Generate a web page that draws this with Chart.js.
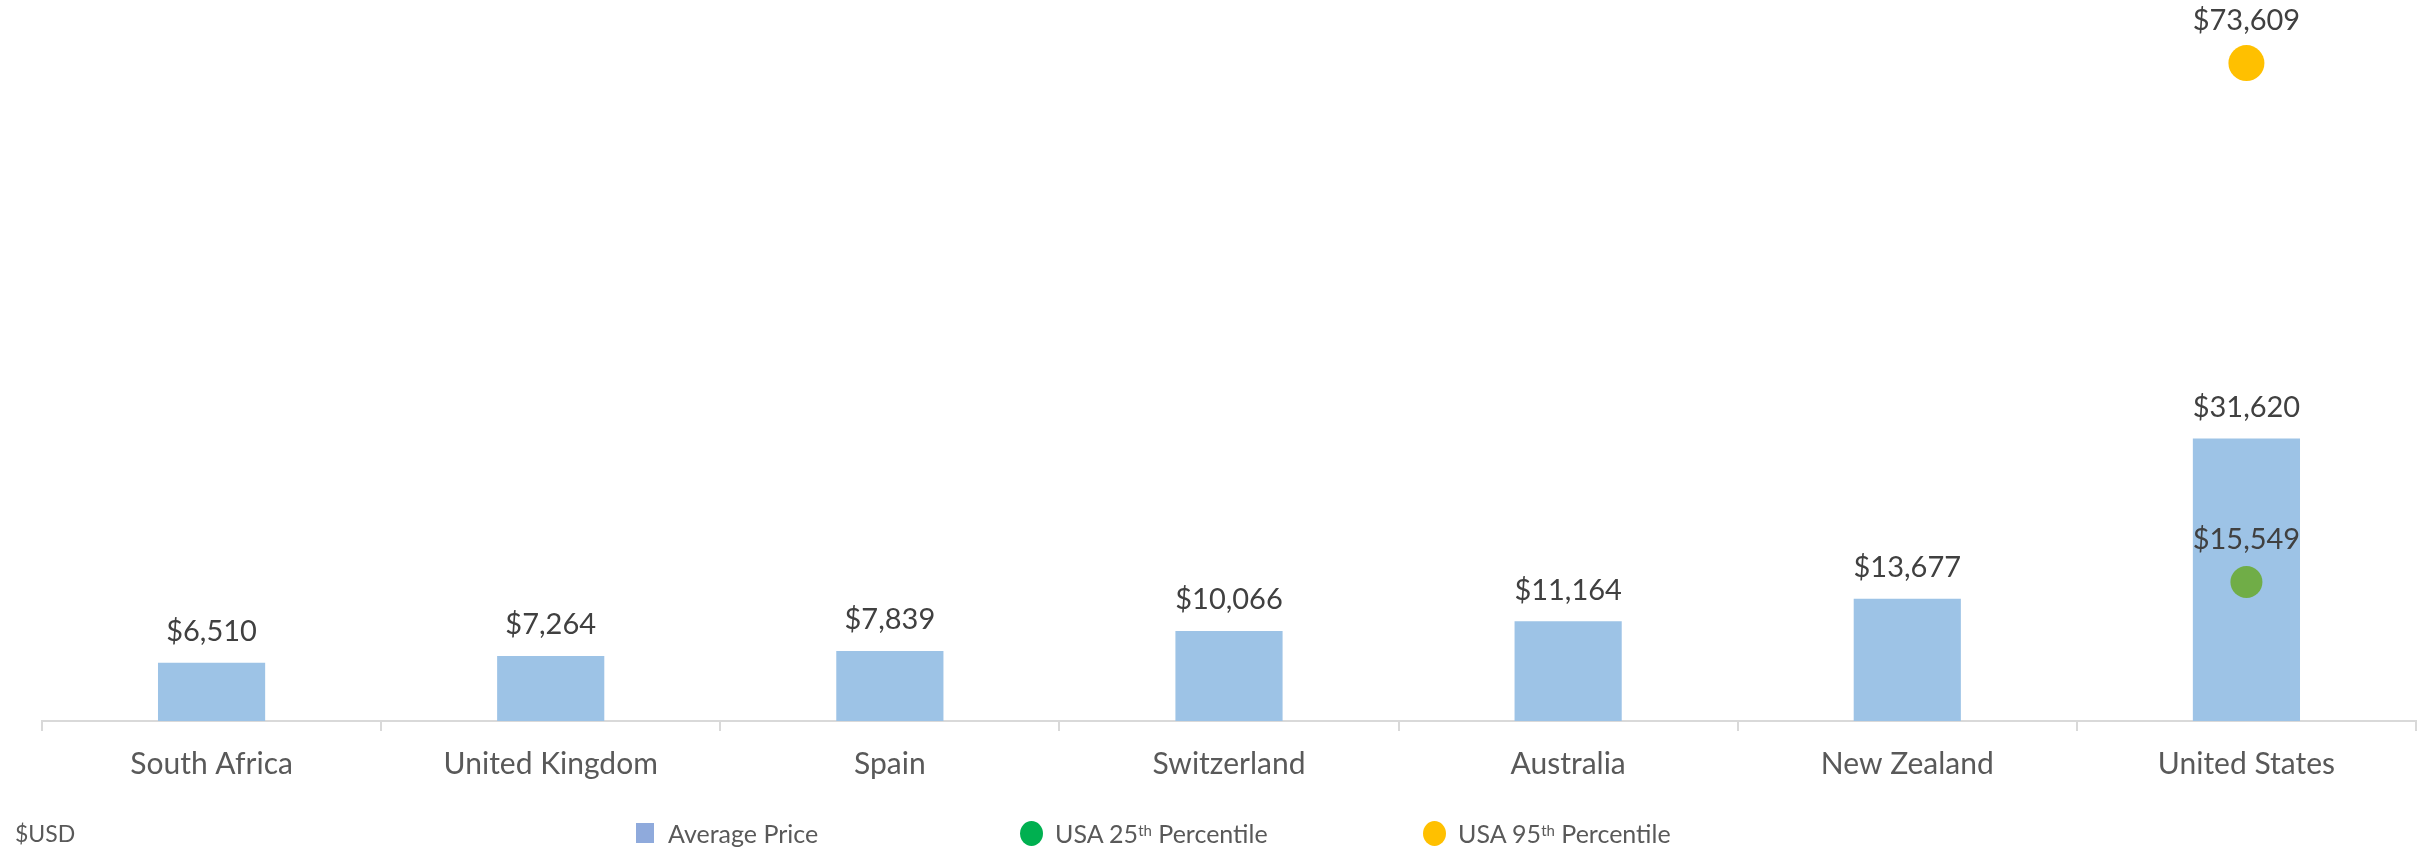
<!DOCTYPE html>
<html>
<head>
<meta charset="utf-8">
<title>Average Price by Country</title>
<script src="https://cdn.jsdelivr.net/npm/chart.js@4.4.0/dist/chart.umd.min.js"></script>
<style>
  html, body { margin: 0; padding: 0; background: #fff; }
  #wrap { position: relative; width: 2433px; height: 847px; }
  #legend { position: absolute; left: 0; top: 815px; width: 2433px; height: 36px;
            font-family: Lato, "Open Sans", sans-serif; font-size: 25px; color: #595959; }
  .item { position: absolute; top: 0; height: 36px; display: flex; align-items: center; white-space: nowrap; }
  .item sup { font-size: 15px; position: relative; top: -3px; }
  .swatch { width: 18px; height: 20px; background: #8faadc; margin-right: 14px; }
  .dot { width: 23px; height: 25px; border-radius: 50%; margin-right: 12px; }
</style>
</head>
<body>
<div id="wrap">
  <canvas id="chart" width="2433" height="847"></canvas>
  <div id="legend">
    <div class="item" style="left:15px; font-size:23px">$USD</div>
    <div class="item" style="left:636px"><span class="swatch"></span>Average Price</div>
    <div class="item" style="left:1020px"><span class="dot" style="background:#00b050"></span>USA 25<sup>th</sup>&nbsp;Percentile</div>
    <div class="item" style="left:1423px"><span class="dot" style="background:#ffc000"></span>USA 95<sup>th</sup>&nbsp;Percentile</div>
  </div>
</div>
<script>
// chart data
const countries = ['South Africa', 'United Kingdom', 'Spain', 'Switzerland', 'Australia', 'New Zealand', 'United States'];
const averagePrice = [6510, 7264, 7839, 10066, 11164, 13677, 31620];
const usa25th = [null, null, null, null, null, null, 15549];
const usa95th = [null, null, null, null, null, null, 73609];
const yMax = 80000;

const FONT = 'Lato, "Open Sans", sans-serif';

document.addEventListener('DOMContentLoaded', () => {
  const fmt = v => '$' + v.toLocaleString('en-US');

  // draws the "$x,xxx" labels above bars and points
  const valueLabels = {
    id: 'valueLabels',
    afterDatasetsDraw(chart) {
      const ctx = chart.ctx;
      ctx.save();
      ctx.font = '29px ' + FONT;
      ctx.fillStyle = '#404040';
      ctx.textAlign = 'center';
      ctx.textBaseline = 'middle';
      chart.data.datasets.forEach((ds, i) => {
        const meta = chart.getDatasetMeta(i);
        meta.data.forEach((el, j) => {
          const v = ds.data[j];
          if (v == null) return;
          const gap = ds.type === 'bar' ? 31 : 42;
          ctx.fillText(fmt(v), el.x, el.y - gap);
        });
      });
      ctx.restore();
    }
  };

  const ctx = document.getElementById('chart').getContext('2d');
  new Chart(ctx, {
    data: {
      labels: countries,
      datasets: [
        {
          type: 'bar',
          label: 'Average Price',
          data: averagePrice,
          backgroundColor: '#9dc3e6',
          barPercentage: 0.316,
          categoryPercentage: 1,
          order: 2
        },
        {
          type: 'line',
          label: 'USA 25th Percentile',
          data: usa25th,
          showLine: false,
          pointRadius: 16,
          pointBorderWidth: 0,
          pointBackgroundColor: '#70ad47',
          order: 1
        },
        {
          type: 'line',
          label: 'USA 95th Percentile',
          data: usa95th,
          showLine: false,
          pointRadius: 18,
          pointBorderWidth: 0,
          pointBackgroundColor: '#ffc000',
          order: 1
        }
      ]
    },
    options: {
      responsive: false,
      animation: false,
      layout: { autoPadding: false, padding: { left: 42, right: 17, top: 6, bottom: 50 } },
      plugins: {
        legend: { display: false },
        tooltip: { enabled: false }
      },
      scales: {
        x: {
          grid: {
            offset: true,
            drawOnChartArea: false,
            drawTicks: true,
            tickLength: 10,
            color: '#d9d9d9',
            lineWidth: 2
          },
          border: { color: '#d9d9d9', width: 2 },
          ticks: { color: '#595959', padding: 15, font: { family: FONT, size: 30 } }
        },
        y: { display: false, min: 0, max: yMax }
      }
    },
    plugins: [valueLabels]
  });
});
</script>
</body>
</html>
